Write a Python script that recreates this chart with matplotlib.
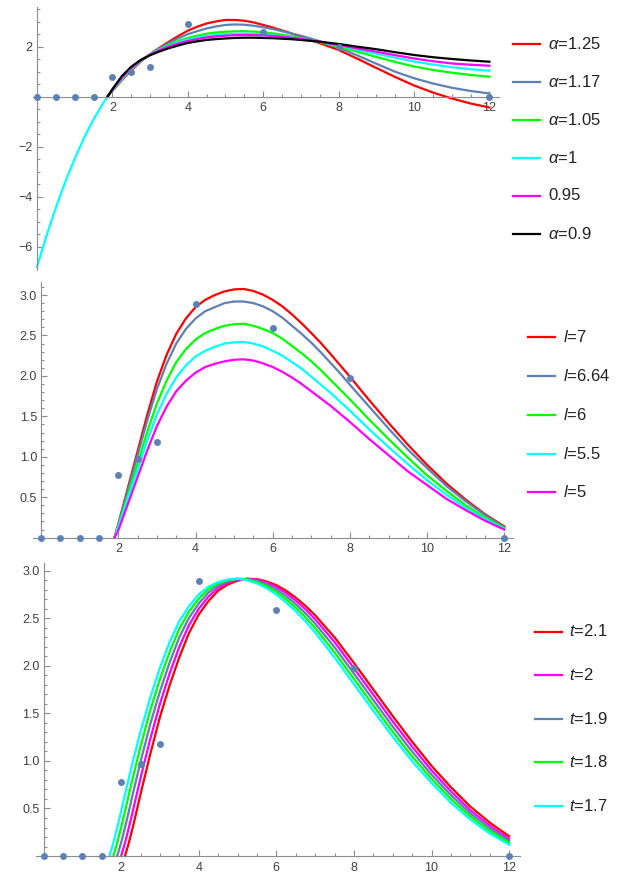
import numpy as np
import matplotlib
matplotlib.use('Agg')
import matplotlib.pyplot as plt
from matplotlib.lines import Line2D

plt.rcParams['font.family'] = 'Liberation Sans'
plt.rcParams['mathtext.fontset'] = 'custom'
plt.rcParams['mathtext.it'] = 'Liberation Sans:italic'
plt.rcParams['mathtext.rm'] = 'Liberation Sans'

nan = np.nan

# measured points (same in all three panels)
data_x = [0, 0.5, 1, 1.5, 2, 2.5, 3, 4, 6, 8, 12]
data_y = [0, 0, 0, 0, 0.78, 0.97, 1.18, 2.89, 2.59, 1.98, 0]

# panel 1 : alpha
x1 = [1.87, 2.0, 2.25, 2.5, 2.75, 3.0, 3.25, 3.5, 3.75, 4.0, 4.25, 4.5, 4.75, 5.0, 5.25, 5.5,
      5.75, 6.0, 6.25, 6.5, 6.75, 7.0, 7.5, 8.0, 8.5, 9.0, 9.5, 10.0, 10.5, 11.0, 11.5, 12.0]
a125 = [0, 0.23, 0.66, 1.05, 1.4, 1.7, 1.96, 2.2, 2.43, 2.64, 2.8, 2.93, 3.01, 3.07, 3.07, 3.04,
        2.97, 2.87, 2.77, 2.65, 2.53, 2.4, 2.14, 1.87, 1.52, 1.15, 0.79, 0.45, 0.17, -0.07, -0.27, -0.43]
a117 = [0, 0.24, 0.68, 1.08, 1.42, 1.7, 1.94, 2.15, 2.34, 2.5, 2.62, 2.73, 2.81, 2.87, 2.89, 2.88,
        2.84, 2.78, 2.71, 2.62, 2.53, 2.44, 2.22, 1.96, 1.65, 1.32, 1.0, 0.74, 0.53, 0.36, 0.23, 0.13]
a105 = [0, 0.25, 0.7, 1.1, 1.43, 1.69, 1.9, 2.08, 2.23, 2.35, 2.44, 2.52, 2.57, 2.6, 2.615, 2.62,
        2.605, 2.58, 2.535, 2.48, 2.415, 2.34, 2.18, 2.0, 1.8, 1.59, 1.39, 1.21, 1.07, 0.96, 0.87, 0.8]
a100 = [0, 0.26, 0.72, 1.12, 1.44, 1.68, 1.88, 2.04, 2.18, 2.29, 2.365, 2.43, 2.47, 2.5, 2.515, 2.52,
        2.51, 2.49, 2.46, 2.42, 2.375, 2.32, 2.19, 2.05, 1.88, 1.72, 1.56, 1.41, 1.29, 1.18, 1.1, 1.04]
a095 = [0, 0.28, 0.76, 1.15, 1.45, 1.68, 1.86, 2.01, 2.13, 2.23, 2.305, 2.37, 2.41, 2.44, 2.46, 2.47,
        2.465, 2.45, 2.43, 2.4, 2.36, 2.31, 2.2, 2.07, 1.93, 1.8, 1.66, 1.53, 1.42, 1.33, 1.28, 1.24]
a090 = [0, 0.3, 0.82, 1.2, 1.47, 1.66, 1.81, 1.94, 2.05, 2.15, 2.215, 2.27, 2.305, 2.33, 2.35, 2.36,
        2.36, 2.35, 2.34, 2.32, 2.3, 2.27, 2.2, 2.11, 2.0, 1.9, 1.78, 1.67, 1.58, 1.51, 1.45, 1.4]
# alpha=1 also continues to the left of the start point
x1_left = [0, 0.25, 0.5, 0.75, 1.0, 1.25, 1.5, 1.75]
a100_left = [-6.8, -5.57, -4.44, -3.41, -2.48, -1.64, -0.91, -0.27]

# panel 2 : l
x2 = [1.9, 2.0, 2.25, 2.5, 2.75, 3.0, 3.25, 3.5, 3.75, 4.0, 4.25, 4.5, 4.75, 5.0, 5.25, 5.5, 5.75,
      6.0, 6.25, 6.5, 6.75, 7.0, 7.25, 7.5, 7.75, 8.0, 8.5, 9.0, 9.5, 10.0, 10.5, 11.0, 11.5, 12.0]
l7 = [0, 0.17, 0.62, 1.07, 1.52, 1.93, 2.26, 2.52, 2.71, 2.85, 2.94, 3.0, 3.045, 3.07, 3.075, 3.05, 3.005,
      2.94, 2.86, 2.76, 2.65, 2.53, 2.405, 2.27, 2.13, 1.99, 1.7, 1.42, 1.15, 0.9, 0.67, 0.47, 0.29, 0.14]
l664 = [0, 0.16, 0.59, 1.02, 1.45, 1.84, 2.15, 2.4, 2.58, 2.71, 2.8, 2.85, 2.9, 2.92, 2.92, 2.9, 2.86,
        2.8, 2.72, 2.62, 2.52, 2.41, 2.29, 2.16, 2.03, 1.89, 1.62, 1.35, 1.09, 0.86, 0.64, 0.45, 0.28, 0.13]
l6 = [0, 0.14, 0.53, 0.92, 1.31, 1.66, 1.94, 2.17, 2.33, 2.45, 2.53, 2.58, 2.62, 2.64, 2.645, 2.62, 2.58,
      2.53, 2.46, 2.37, 2.28, 2.18, 2.07, 1.95, 1.83, 1.71, 1.46, 1.22, 0.99, 0.77, 0.58, 0.4, 0.25, 0.12]
l55 = [0, 0.13, 0.49, 0.84, 1.2, 1.52, 1.78, 1.98, 2.13, 2.24, 2.31, 2.36, 2.4, 2.415, 2.42, 2.4, 2.365,
       2.31, 2.25, 2.17, 2.09, 1.99, 1.89, 1.79, 1.68, 1.57, 1.34, 1.12, 0.91, 0.71, 0.53, 0.37, 0.23, 0.11]
l5 = [0, 0.09, 0.42, 0.75, 1.08, 1.38, 1.62, 1.81, 1.94, 2.04, 2.11, 2.15, 2.18, 2.2, 2.205, 2.19, 2.155,
      2.11, 2.05, 1.98, 1.9, 1.81, 1.72, 1.63, 1.53, 1.43, 1.22, 1.02, 0.82, 0.65, 0.48, 0.34, 0.21, 0.1]

# panel 3 : t
x3 = [1.7, 1.8, 1.9, 2.0, 2.1, 2.2, 2.3, 2.5, 2.75, 3.0, 3.25, 3.5, 3.75, 4.0, 4.25, 4.5, 4.75, 5.0,
      5.25, 5.5, 5.75, 6.0, 6.25, 6.5, 6.75, 7.0, 7.5, 8.0, 8.5, 9.0, 9.5, 10.0, 10.5, 11.0, 11.5, 12.0]
t21 = [nan, nan, nan, nan, 0, 0.14, 0.3, 0.65, 1.07, 1.46, 1.795, 2.09, 2.345, 2.54, 2.68, 2.79, 2.855, 2.895,
       2.914, 2.912, 2.887, 2.848, 2.791, 2.717, 2.631, 2.532, 2.3, 2.031, 1.751, 1.471, 1.202, 0.948, 0.724,
       0.52, 0.352, 0.208]
t20 = [nan, nan, nan, 0, 0.14, 0.3, 0.47, 0.82, 1.23, 1.6, 1.92, 2.2, 2.43, 2.6, 2.728, 2.82, 2.873, 2.905,
       2.916, 2.905, 2.875, 2.83, 2.765, 2.685, 2.595, 2.49, 2.25, 1.975, 1.695, 1.415, 1.15, 0.9, 0.68,
       0.48, 0.32, 0.18]
t19 = [nan, nan, 0, 0.14, 0.3, 0.47, 0.65, 0.99, 1.385, 1.73, 2.035, 2.3, 2.505, 2.655, 2.77, 2.845, 2.888,
       2.912, 2.914, 2.893, 2.857, 2.804, 2.733, 2.649, 2.553, 2.444, 2.196, 1.919, 1.639, 1.361, 1.098,
       0.856, 0.64, 0.448, 0.292, 0.16]
t18 = [nan, 0, 0.14, 0.3, 0.47, 0.65, 0.82, 1.15, 1.53, 1.86, 2.145, 2.39, 2.57, 2.705, 2.805, 2.865, 2.9,
       2.916, 2.909, 2.881, 2.839, 2.778, 2.701, 2.613, 2.511, 2.398, 2.142, 1.863, 1.583, 1.307, 1.046,
       0.812, 0.6, 0.416, 0.264, 0.14]
t17 = [0, 0.14, 0.3, 0.47, 0.65, 0.82, 0.99, 1.31, 1.665, 1.98, 2.25, 2.47, 2.628, 2.75, 2.833, 2.88, 2.909,
       2.916, 2.899, 2.866, 2.817, 2.749, 2.667, 2.574, 2.467, 2.35, 2.087, 1.807, 1.527, 1.254, 0.996,
       0.768, 0.56, 0.384, 0.236, 0.12]

RED = '#ff0000'
BLUE = '#5e81b5'
GREEN = '#00ff00'
CYAN = '#00ffff'
MAGENTA = '#ff00ff'
BLACK = '#000000'
AXC = '#8c8c8c'
TXC = '#404040'
LW = 1.6

W, H = 627, 876
fig = plt.figure(figsize=(W / 100, H / 100), dpi=100)


def add_axes(l, r, t, b):
  return fig.add_axes([l / W, 1 - b / H, (r - l) / W, (b - t) / H])


def setup(ax, xlim, ylim, ymaj, ymin, yfmt, ybounds):
  ax.set_xlim(xlim)
  ax.set_ylim(ylim)
  ax.patch.set_visible(False)
  for s in ['top', 'right']:
    ax.spines[s].set_visible(False)
  ax.spines['left'].set_position(('data', 0))
  ax.spines['bottom'].set_position(('data', 0))
  ax.spines['left'].set_bounds(*ybounds)
  for s in ['left', 'bottom']:
    ax.spines[s].set_color(AXC)
    ax.spines[s].set_linewidth(0.8)
  ax.set_xticks([2, 4, 6, 8, 10, 12])
  ax.set_xticklabels(['2', '4', '6', '8', '10', '12'])
  ax.set_xticks(np.arange(0.5, 12.01, 0.5), minor=True)
  ax.set_yticks(ymaj)
  ax.set_yticklabels([yfmt(v) for v in ymaj])
  ax.set_yticks(ymin, minor=True)
  ax.tick_params(which='both', direction='in', color=AXC, width=0.8,
                 labelcolor=TXC, labelsize=9)
  ax.tick_params(which='major', length=4.5)
  ax.tick_params(which='minor', length=2.5)
  ax.tick_params(axis='x', pad=4)
  ax.tick_params(axis='y', pad=3)


def legend(labels, colors, xl, xt, y0, dy):
  for i, (lab, c) in enumerate(zip(labels, colors)):
    y = 1 - (y0 + i * dy) / H
    fig.add_artist(Line2D([xl / W, (xl + 27) / W], [y, y], color=c, lw=LW,
                          transform=fig.transFigure))
    fig.text(xt / W, y, lab, color='#222222', fontsize=12, va='center', ha='left')


def dots(ax):
  ax.plot(data_x, data_y, 'o', color=BLUE, ms=5, mec='none', zorder=5, clip_on=False)


# ---- panel 1
ax1 = add_axes(33.2, 498.8, 6.7, 270)
setup(ax1, (-0.1, 12.25), (-6.93, 3.6), [-6, -4, -2, 2], np.arange(-6.5, 3.51, 0.5),
      lambda v: '%d' % v if v >= 0 else '\u2212%d' % -v, (-6.93, 3.6))
ax1.plot(x1, a125, color=RED, lw=LW)
ax1.plot(x1, a117, color=BLUE, lw=LW)
ax1.plot(x1, a105, color=GREEN, lw=LW)
ax1.plot(x1_left + x1, a100_left + a100, color=CYAN, lw=LW)
ax1.plot(x1, a095, color=MAGENTA, lw=LW)
ax1.plot(x1, a090, color=BLACK, lw=LW)
dots(ax1)
legend([r'$\alpha$=1.25', r'$\alpha$=1.17', r'$\alpha$=1.05', r'$\alpha$=1', '0.95', r'$\alpha$=0.9'],
       [RED, BLUE, GREEN, CYAN, MAGENTA, BLACK], 513, 548, 44, 38)

# ---- panel 2
ax2 = add_axes(33.4, 513.2, 282.1, 540.1)
setup(ax2, (-0.2, 12.23), (-0.03, 3.16), [0.5, 1.0, 1.5, 2.0, 2.5, 3.0],
      np.arange(0.1, 3.11, 0.1), lambda v: '%.1f' % v, (0, 3.16))
ax2.plot(x2, l7, color=RED, lw=LW)
ax2.plot(x2, l664, color=BLUE, lw=LW)
ax2.plot(x2, l6, color=GREEN, lw=LW)
ax2.plot(x2, l55, color=CYAN, lw=LW)
ax2.plot(x2, l5, color=MAGENTA, lw=LW)
dots(ax2)
legend([r'$l$=7', r'$l$=6.64', r'$l$=6', r'$l$=5.5', r'$l$=5'],
       [RED, BLUE, GREEN, CYAN, MAGENTA], 528, 563, 337.5, 38.7)

# ---- panel 3
ax3 = add_axes(35.75, 520, 563.1, 858.9)
setup(ax3, (-0.2, 12.28), (-0.03, 3.08), [0.5, 1.0, 1.5, 2.0, 2.5, 3.0],
      np.arange(0.1, 3.01, 0.1), lambda v: '%.1f' % v, (0, 3.08))
ax3.plot(x3, t21, color=RED, lw=LW)
ax3.plot(x3, t20, color=MAGENTA, lw=LW)
ax3.plot(x3, t19, color=BLUE, lw=LW)
ax3.plot(x3, t18, color=GREEN, lw=LW)
ax3.plot(x3, t17, color=CYAN, lw=LW)
dots(ax3)
legend([r'$t$=2.1', r'$t$=2', r'$t$=1.9', r'$t$=1.8', r'$t$=1.7'],
       [RED, MAGENTA, BLUE, GREEN, CYAN], 535, 569, 631.5, 43.6)

fig.savefig('out.png', dpi=100)
